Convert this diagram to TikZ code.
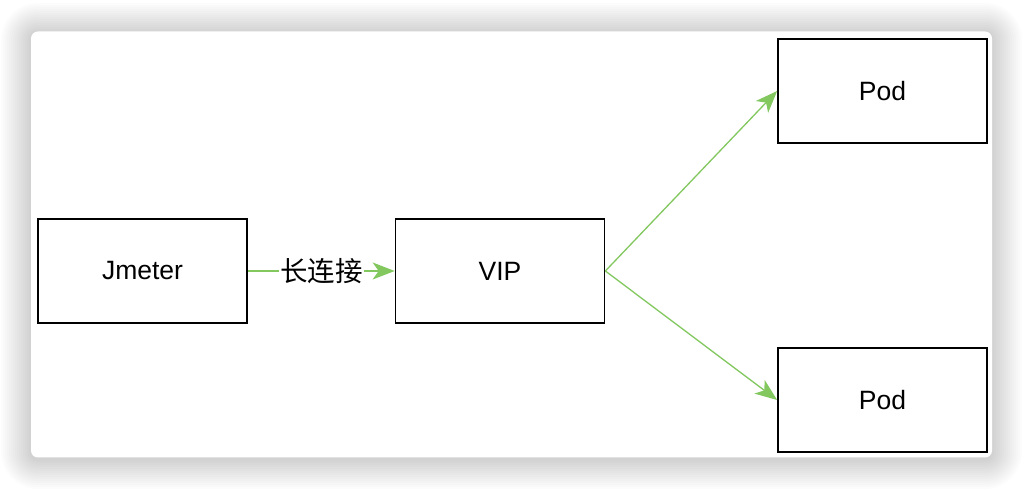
\documentclass[tikz,border=0pt]{standalone}
\usepackage{fontspec}
\setmainfont{Liberation Sans}
\newfontfamily\cjk{Noto Sans CJK SC}
\usetikzlibrary{arrows.meta,positioning}
\definecolor{linkgreen}{RGB}{130,200,95}
\tikzset{%
	block/.style = {draw, rectangle, line width=1.7pt, fill=white, minimum width=209pt, minimum height=104pt, font=\fontsize{26.5}{30}\selectfont},
	arrow/.style = {draw=linkgreen, line width=1.3pt, -{Stealth[length=22pt,width=17pt,inset=6pt]}},
	tag/.style   = {fill=white, inner sep=1pt, font=\cjk\fontsize{27.5}{30}\selectfont}, % label on a link
	card/.style  = {fill=white, rounded corners=7pt},
}
\begin{document}
\begin{tikzpicture}[x=1pt,y=1pt,node distance=357.5pt]
	\useasboundingbox (0,0) rectangle (1024,489);
	% soft shadow under the card
	\foreach \i in {1,...,15}{
		\pgfmathsetmacro\rad{7+2*\i}
		\fill[black,opacity=0.011,rounded corners=\rad pt] (31-2*\i,30-2*\i) rectangle (992+2*\i,456+2*\i);
	}
	\node [card,draw=none,minimum width=961pt,minimum height=426pt] (card) at (511.5,244.5) {};
	
	\node [block] (jmeter) at (142.5,218) {Jmeter};
	\node [block] (vip) [right of=jmeter] {VIP};
	\node [block] (podA) [right of=vip,node distance=382.5pt,yshift=180pt] {Pod};
	\node [block] (podB) [right of=vip,node distance=382.5pt,yshift=-129pt] {Pod};
	
	\draw[arrow] (jmeter) -- node[tag] {长连接} (vip);
	\draw[arrow] (vip.east) -- (podA.west);
	\draw[arrow] (vip.east) -- (podB.west);
\end{tikzpicture}
\end{document}
